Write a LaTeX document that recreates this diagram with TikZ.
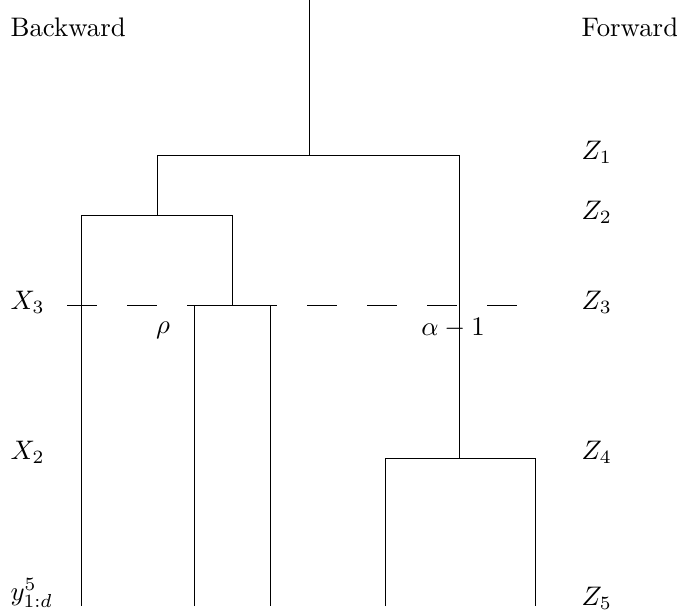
\documentclass[tikz,border=0pt]{standalone}
\usetikzlibrary{positioning, calc}

\begin{document}
\begin{tikzpicture}[x=0.373pt, y=-0.373pt,
    lbl/.style={anchor=west, inner sep=0pt},
    tree/.style={line width=0.35pt}]
    \useasboundingbox (0,0) rectangle (677,614);
    % side labels
    \node[lbl] (back) at (10,27) {Backward};
    \node[lbl] (fwd) at (581,27) {Forward};
    \node[lbl] (z1) at (581,152) {$Z_1$};
    \node[lbl] (z2) at (581,212) {$Z_2$};
    \node[lbl] (z3) at (581,302) {$Z_3$};
    \node[lbl] (z4) at (581,452) {$Z_4$};
    \node[lbl] (z5) at (581,598) {$Z_5$};
    \node[lbl] (x3) at (10,302) {$X_3$};
    \node[lbl] (x2) at (10,452) {$X_2$};
    \node[lbl] (y5) at (10,593) {$y^5_{1:d}$};
    % tree
    \coordinate (root) at (309,0);
    \coordinate (n1) at (309,155);
    \coordinate (n2) at (157,215);
    \coordinate (n3) at (232,305);
    \coordinate (n4) at (459,458);
    \draw[tree] (root) -- (n1);
    \draw[tree] (n2 |- n1) -- (n4 |- n1);
    \draw[tree] (n2 |- n1) -- (n2);
    \draw[tree] (81,215) -- (n3 |- n2) -- (n3);
    \draw[tree] (81,215) -- (81,606);
    \draw[tree] (194,606) -- (194,305) -- (270,305) -- (270,606);
    \draw[tree] (n4 |- n1) -- (n4);
    \draw[tree] (385,606) -- (385,458) -- (535,458) -- (535,606);
    % cut
    \draw[tree, dash pattern=on 11.2pt off 11.2pt] (67,305) -- (520,305);
    \node (rho) at (163,330) {$\rho$};
    \node (alpha) at (453,328) {$\alpha-1$};
\end{tikzpicture}
\end{document}
